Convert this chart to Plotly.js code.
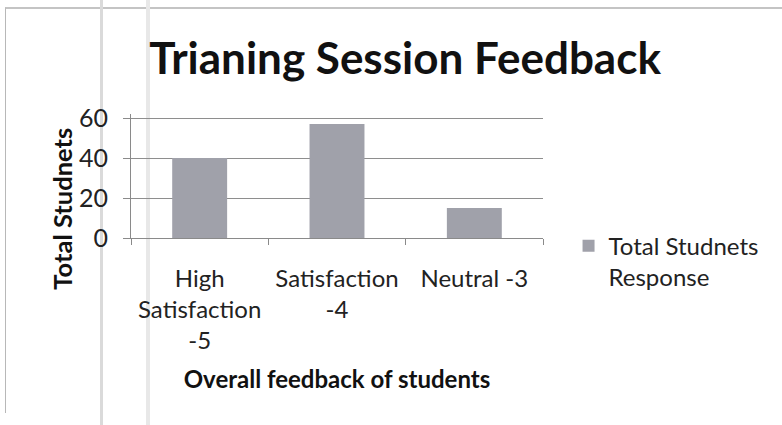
<!DOCTYPE html>
<html>
<head>
<meta charset="utf-8">
<script src="https://cdn.plot.ly/plotly-3.0.1.min.js"></script>
<style>
  html, body { margin: 0; padding: 0; background: #ffffff; }
  #wrap { position: relative; width: 782px; height: 425px; overflow: hidden; background: #ffffff; }
  #frame { position: absolute; left: 5px; top: 7px; width: 800px; height: 404px; border-top: 2px solid #c4c4c4; border-left: 1px solid #b8b8b8; }
  .stripe { position: absolute; top: 0; height: 425px; }
  #chart { position: absolute; left: 0; top: 0; width: 782px; height: 425px; }
</style>
</head>
<body>
<div id="wrap">
  <div id="frame"></div>
  <div class="stripe" style="left:100px;width:3px;background:#dadada;"></div>
  <div class="stripe" style="left:146px;width:4px;background:#e8e8e8;"></div>
  <div id="chart"></div>
</div>
<script>
// ---- data ----
const categories = ["High<br>Satisfaction<br>-5", "Satisfaction<br>-4", "Neutral -3"];
const responses = [40, 57, 15];
const seriesName = "Total Studnets<br>Response";
const chartTitle = "Trianing Session Feedback";
const xTitle = "Overall feedback of students";
const yTitle = "Total Studnets";
const yTicks = [0, 20, 40, 60];

const FONT = "Lato, 'Open Sans', sans-serif";

const trace = {
  type: "bar",
  x: categories,
  y: responses,
  name: seriesName,
  marker: { color: "#a0a1aa" },
  showlegend: true,
  hoverinfo: "x+y"
};

const layout = {
  width: 782,
  height: 425,
  margin: { l: 131, r: 239, t: 114, b: 187, pad: 0 },
  paper_bgcolor: "rgba(0,0,0,0)",
  plot_bgcolor: "rgba(0,0,0,0)",
  showlegend: true,
  bargap: 0.6,
  title: {
    text: chartTitle,
    font: { family: FONT, size: 44, color: "#111111", weight: "bold" },
    x: 0.518, xref: "container", xanchor: "center",
    y: 0.862, yref: "container", yanchor: "middle"
  },
  xaxis: {
    type: "category",
    tickson: "boundaries",
    ticks: "outside",
    ticklen: 6,
    tickcolor: "#8a8a8a",
    showline: true,
    linecolor: "#8a8a8a",
    linewidth: 1,
    showgrid: false,
    tickfont: { family: FONT, size: 24, color: "#222222" },
    ticklabelstandoff: 19,
    automargin: false,
    title: {
      text: xTitle,
      font: { family: FONT, size: 24, color: "#111111", weight: "bold" },
      standoff: 17
    }
  },
  yaxis: {
    range: [0, 62],
    tickvals: yTicks,
    ticks: "outside",
    ticklen: 7,
    tickcolor: "#8a8a8a",
    showline: true,
    linecolor: "#8a8a8a",
    linewidth: 1,
    showgrid: true,
    gridcolor: "#8e8e8e",
    gridwidth: 1,
    zeroline: false,
    tickfont: { family: FONT, size: 25, color: "#222222" },
    ticklabelstandoff: 10,
    automargin: false
  },
  legend: {
    x: 1.062, xanchor: "left",
    y: 0.115, yanchor: "top",
    valign: "top",
    bgcolor: "rgba(0,0,0,0)",
    font: { family: FONT, size: 24, color: "#222222" }
  },
  annotations: [{
    text: yTitle,
    xref: "paper", yref: "paper",
    x: -0.168, y: 0.235,
    xanchor: "center", yanchor: "middle",
    textangle: -90,
    showarrow: false,
    font: { family: FONT, size: 25.5, color: "#111111", weight: "bold" }
  }]
};

Plotly.newPlot("chart", [trace], layout, { displayModeBar: false, staticPlot: true });
</script>
</body>
</html>
